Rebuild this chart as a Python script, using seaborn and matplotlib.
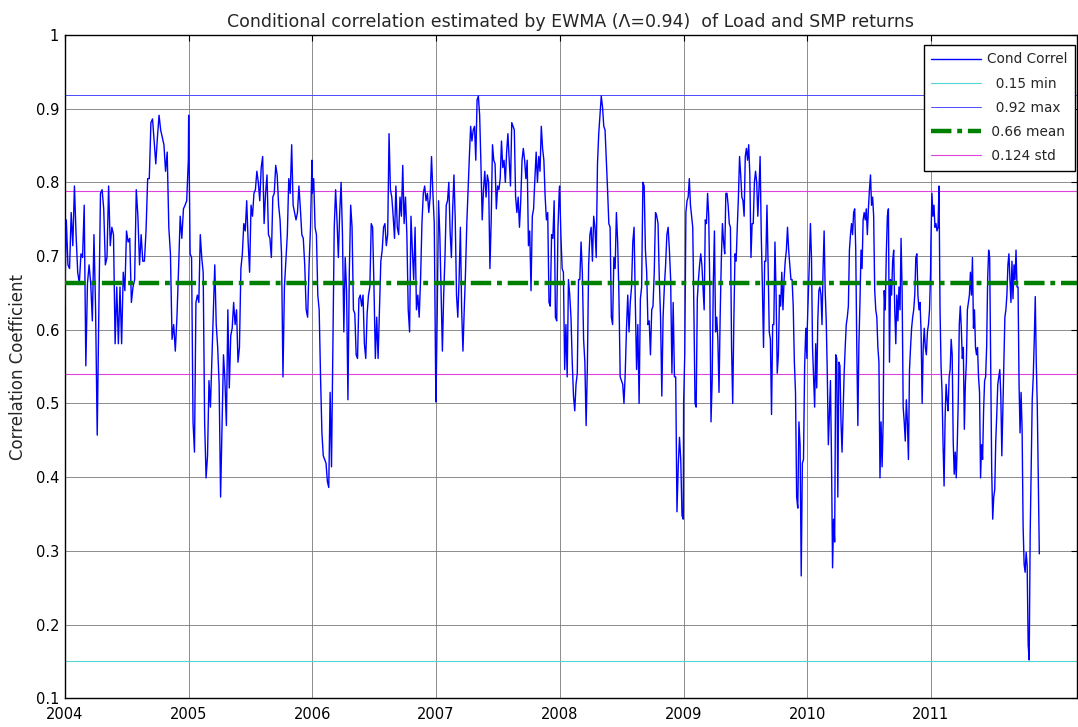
import numpy as np
import pandas as pd
import matplotlib
matplotlib.use("Agg")
import matplotlib.pyplot as plt
import matplotlib.dates as mdates
import seaborn as sns

# conditional correlation values, one list per year
v2004 = [0.632, 0.749, 0.688, 0.683, 0.759, 0.714, 0.795, 0.729, 0.678, 0.663, 0.703, 0.698, 0.769, 0.551,
         0.663, 0.688, 0.663, 0.612, 0.729, 0.627, 0.457, 0.627, 0.785, 0.790, 0.764, 0.688, 0.698, 0.795,
         0.714, 0.739, 0.729, 0.581, 0.658, 0.581, 0.658, 0.581, 0.678, 0.653, 0.734, 0.719, 0.724, 0.637,
         0.658, 0.668, 0.790, 0.754, 0.688, 0.729, 0.693, 0.693, 0.734, 0.805, 0.805, 0.881, 0.886, 0.856,
         0.825, 0.861, 0.891, 0.871, 0.861, 0.851, 0.815, 0.841, 0.739, 0.703, 0.587, 0.607, 0.571, 0.617,
         0.683, 0.754, 0.724, 0.764, 0.769, 0.775, 0.830]
v2005 = [0.891, 0.703, 0.698, 0.475, 0.434, 0.637, 0.647, 0.637, 0.729, 0.698, 0.678, 0.475, 0.399, 0.429,
         0.531, 0.495, 0.561, 0.622, 0.688, 0.607, 0.576, 0.526, 0.373, 0.470, 0.566, 0.531, 0.470, 0.627,
         0.521, 0.592, 0.602, 0.637, 0.607, 0.627, 0.556, 0.576, 0.683, 0.703, 0.744, 0.734, 0.775, 0.719,
         0.678, 0.769, 0.754, 0.785, 0.790, 0.815, 0.800, 0.775, 0.820, 0.835, 0.744, 0.785, 0.810, 0.729,
         0.724, 0.698, 0.780, 0.785, 0.823, 0.810, 0.769, 0.749, 0.703, 0.536, 0.658, 0.693, 0.729, 0.805,
         0.785, 0.851, 0.769, 0.759, 0.749, 0.759, 0.795, 0.764, 0.729, 0.724, 0.688, 0.627, 0.617, 0.688,
         0.739, 0.830]
v2006 = [0.785, 0.805, 0.739, 0.729, 0.647, 0.627, 0.536, 0.460, 0.429, 0.424, 0.419, 0.394, 0.386, 0.515,
         0.414, 0.581, 0.739, 0.790, 0.749, 0.698, 0.759, 0.800, 0.729, 0.597, 0.698, 0.653, 0.505, 0.678,
         0.769, 0.739, 0.627, 0.622, 0.566, 0.561, 0.642, 0.647, 0.632, 0.647, 0.581, 0.561, 0.622, 0.647,
         0.658, 0.744, 0.739, 0.658, 0.561, 0.617, 0.561, 0.627, 0.693, 0.708, 0.739, 0.744, 0.714, 0.729,
         0.866, 0.790, 0.780, 0.754, 0.724, 0.795, 0.739, 0.729, 0.780, 0.754, 0.823, 0.744, 0.780, 0.729,
         0.627, 0.597, 0.754, 0.708, 0.668, 0.739, 0.627, 0.647, 0.617, 0.668, 0.744, 0.785, 0.795, 0.775,
         0.785, 0.759, 0.780, 0.835, 0.785, 0.744, 0.536]
v2007 = [0.502, 0.627, 0.775, 0.729, 0.647, 0.571, 0.647, 0.698, 0.769, 0.775, 0.800, 0.734, 0.698, 0.764,
         0.810, 0.749, 0.647, 0.617, 0.668, 0.739, 0.627, 0.571, 0.627, 0.678, 0.744, 0.790, 0.835, 0.876,
         0.856, 0.871, 0.876, 0.830, 0.912, 0.917, 0.891, 0.825, 0.749, 0.790, 0.815, 0.780, 0.810, 0.800,
         0.683, 0.749, 0.851, 0.830, 0.825, 0.764, 0.795, 0.790, 0.805, 0.856, 0.820, 0.830, 0.800, 0.841,
         0.866, 0.830, 0.795, 0.881, 0.876, 0.871, 0.780, 0.759, 0.780, 0.739, 0.775, 0.830, 0.846, 0.830,
         0.805, 0.830, 0.714, 0.734, 0.653, 0.754, 0.764, 0.805, 0.841, 0.800, 0.835, 0.815, 0.876, 0.846,
         0.830, 0.780, 0.749, 0.759, 0.637, 0.632, 0.729, 0.724, 0.775, 0.617, 0.612, 0.739, 0.790]
v2008 = [0.795, 0.729, 0.683, 0.678, 0.546, 0.607, 0.536, 0.668, 0.647, 0.617, 0.556, 0.510, 0.490, 0.526,
         0.541, 0.668, 0.668, 0.719, 0.678, 0.587, 0.556, 0.470, 0.551, 0.688, 0.729, 0.739, 0.693, 0.754,
         0.739, 0.698, 0.825, 0.866, 0.891, 0.917, 0.902, 0.876, 0.871, 0.830, 0.790, 0.744, 0.739, 0.617,
         0.607, 0.698, 0.683, 0.759, 0.719, 0.647, 0.536, 0.531, 0.526, 0.500, 0.541, 0.602, 0.647, 0.597,
         0.637, 0.658, 0.719, 0.739, 0.637, 0.546, 0.607, 0.500, 0.642, 0.658, 0.800, 0.795, 0.708, 0.678,
         0.607, 0.612, 0.566, 0.627, 0.632, 0.678, 0.759, 0.754, 0.744, 0.668, 0.617, 0.510, 0.617, 0.658,
         0.688, 0.729, 0.739, 0.708, 0.668, 0.541, 0.637, 0.536, 0.536, 0.353, 0.414, 0.454, 0.424, 0.348,
         0.343]
v2009 = [0.500, 0.566, 0.759, 0.775, 0.780, 0.805, 0.769, 0.754, 0.739, 0.627, 0.500, 0.495, 0.642, 0.668,
         0.688, 0.703, 0.688, 0.658, 0.627, 0.749, 0.744, 0.785, 0.754, 0.653, 0.475, 0.531, 0.663, 0.734,
         0.597, 0.617, 0.587, 0.515, 0.617, 0.693, 0.744, 0.719, 0.703, 0.785, 0.785, 0.769, 0.744, 0.739,
         0.576, 0.500, 0.612, 0.703, 0.693, 0.739, 0.780, 0.835, 0.810, 0.780, 0.775, 0.754, 0.835, 0.846,
         0.830, 0.851, 0.810, 0.698, 0.744, 0.744, 0.800, 0.815, 0.800, 0.754, 0.790, 0.835, 0.729, 0.658,
         0.576, 0.693, 0.693, 0.769, 0.688, 0.597, 0.587, 0.485, 0.607, 0.607, 0.719, 0.647, 0.541, 0.566,
         0.647, 0.632, 0.678, 0.627, 0.668, 0.693, 0.708, 0.739, 0.708, 0.688, 0.668, 0.668, 0.632, 0.556,
         0.515, 0.373, 0.358, 0.475, 0.444, 0.266, 0.419, 0.424, 0.551, 0.602, 0.561]
v2010 = [0.602, 0.647, 0.693, 0.744, 0.698, 0.576, 0.536, 0.495, 0.581, 0.521, 0.612, 0.653, 0.658, 0.647,
         0.607, 0.683, 0.734, 0.653, 0.612, 0.541, 0.444, 0.485, 0.531, 0.424, 0.277, 0.343, 0.312, 0.566,
         0.561, 0.373, 0.556, 0.551, 0.475, 0.434, 0.485, 0.541, 0.576, 0.607, 0.617, 0.632, 0.708, 0.729,
         0.744, 0.729, 0.759, 0.764, 0.708, 0.576, 0.470, 0.581, 0.637, 0.708, 0.683, 0.749, 0.759, 0.749,
         0.764, 0.729, 0.764, 0.790, 0.810, 0.769, 0.780, 0.754, 0.653, 0.627, 0.617, 0.576, 0.556, 0.399,
         0.475, 0.414, 0.475, 0.653, 0.627, 0.703, 0.754, 0.764, 0.556, 0.668, 0.647, 0.693, 0.708, 0.627,
         0.581, 0.647, 0.612, 0.658, 0.627, 0.724, 0.653, 0.495, 0.475, 0.449, 0.505, 0.475, 0.424, 0.546,
         0.576, 0.602, 0.617, 0.627, 0.647, 0.698, 0.703, 0.647, 0.627, 0.637, 0.597, 0.500, 0.576, 0.602,
         0.576, 0.566, 0.597, 0.607, 0.627, 0.678]
v2011 = [0.719, 0.785, 0.754, 0.769, 0.739, 0.744, 0.734, 0.739, 0.795, 0.627, 0.551, 0.515, 0.444, 0.388,
         0.480, 0.526, 0.505, 0.490, 0.536, 0.546, 0.587, 0.566, 0.449, 0.404, 0.434, 0.399, 0.444, 0.505,
         0.607, 0.632, 0.602, 0.561, 0.576, 0.465, 0.526, 0.556, 0.627, 0.637, 0.647, 0.678, 0.647, 0.698,
         0.602, 0.627, 0.576, 0.566, 0.576, 0.536, 0.515, 0.399, 0.444, 0.424, 0.490, 0.531, 0.536, 0.576,
         0.668, 0.708, 0.698, 0.546, 0.409, 0.343, 0.373, 0.383, 0.449, 0.485, 0.526, 0.536, 0.546, 0.510,
         0.429, 0.490, 0.546, 0.617, 0.627, 0.647, 0.688, 0.703, 0.668, 0.637, 0.693, 0.642, 0.688, 0.668,
         0.708, 0.658, 0.658, 0.526, 0.460, 0.515, 0.465, 0.333, 0.282, 0.271, 0.298, 0.280, 0.172, 0.152,
         0.325, 0.411, 0.505, 0.536, 0.586, 0.645, 0.555, 0.496, 0.400, 0.296]

yearly = {2004: v2004, 2005: v2005, 2006: v2006, 2007: v2007,
          2008: v2008, 2009: v2009, 2010: v2010, 2011: v2011}
last_day = "2011-11-17"
years = list(yearly.keys())

# summary statistics shown in the legend
min_val = 0.151
max_val = 0.918
mean_val = 0.664
std_val = 0.124

frames = []
for year, vals in yearly.items():
    end = last_day if year == 2011 else f"{year}-12-31"
    d = pd.date_range(f"{year}-01-01", end, periods=len(vals))
    frames.append(pd.DataFrame({"date": d, "corr": vals}))
df = pd.concat(frames, ignore_index=True)

sns.set_style("white")
plt.rcParams["font.family"] = ["DejaVu Sans"]

fig = plt.figure(figsize=(10.78, 7.27), dpi=100)
ax = fig.add_axes([0.060, 0.0395, 0.939, 0.9125])

sns.lineplot(data=df, x="date", y="corr", ax=ax, color="#0000ff", lw=1.0,
             estimator=None, label="Cond Correl", zorder=3)
ax.axhline(min_val, color="#55d5d5", lw=0.8, label=f"  {min_val:.2f} min", zorder=2)
ax.axhline(max_val, color="#4a4aff", lw=0.7, label=f"  {max_val:.2f} max", zorder=2)
ax.axhline(mean_val, color="#008000", lw=3.2, ls=(0, (4.6, 1.3, 1.1, 1.3)),
           label=f" {mean_val:.2f} mean", zorder=4)
ax.axhline(mean_val + std_val, color="#dd44dd", lw=0.8, label=f" {std_val:.3f} std", zorder=2)
ax.axhline(mean_val - std_val, color="#dd44dd", lw=0.8, zorder=2)

ax.set_ylim(0.1, 1.0)
ax.set_yticks(np.arange(0.1, 1.01, 0.1))
ax.set_yticklabels(["0.1", "0.2", "0.3", "0.4", "0.5", "0.6", "0.7", "0.8", "0.9", "1"])
ax.set_xlim(pd.Timestamp("2004-01-01"), pd.Timestamp("2012-03-07"))
ax.set_xticks([pd.Timestamp(f"{y}-01-01") for y in years])
ax.xaxis.set_major_formatter(mdates.DateFormatter("%Y"))

ax.grid(True, color="#7a7a7a", lw=0.6)
ax.set_axisbelow(True)
ax.tick_params(direction="in", length=4, top=True, right=True, labelsize=10.5, colors="black")
ax.tick_params(axis="x", pad=6)
ax.tick_params(axis="y", pad=4)
for s in ax.spines.values():
    s.set_color("black")
    s.set_linewidth(1.0)

ax.set_xlabel("")
ax.set_ylabel("Correlation Coefficient", fontsize=12, labelpad=6)
ax.set_title("Conditional correlation estimated by EWMA (\u039b=0.94)  of Load and SMP returns",
             fontsize=12.5, pad=6)

leg = ax.legend(loc="upper right", bbox_to_anchor=(0.998, 0.985), borderaxespad=0,
                fancybox=False, edgecolor="black", framealpha=1, fontsize=9.8,
                handlelength=3.7, labelspacing=0.75, handletextpad=0.4, borderpad=0.55)
leg.get_frame().set_linewidth(1.0)

fig.savefig("out.png", dpi=100)
